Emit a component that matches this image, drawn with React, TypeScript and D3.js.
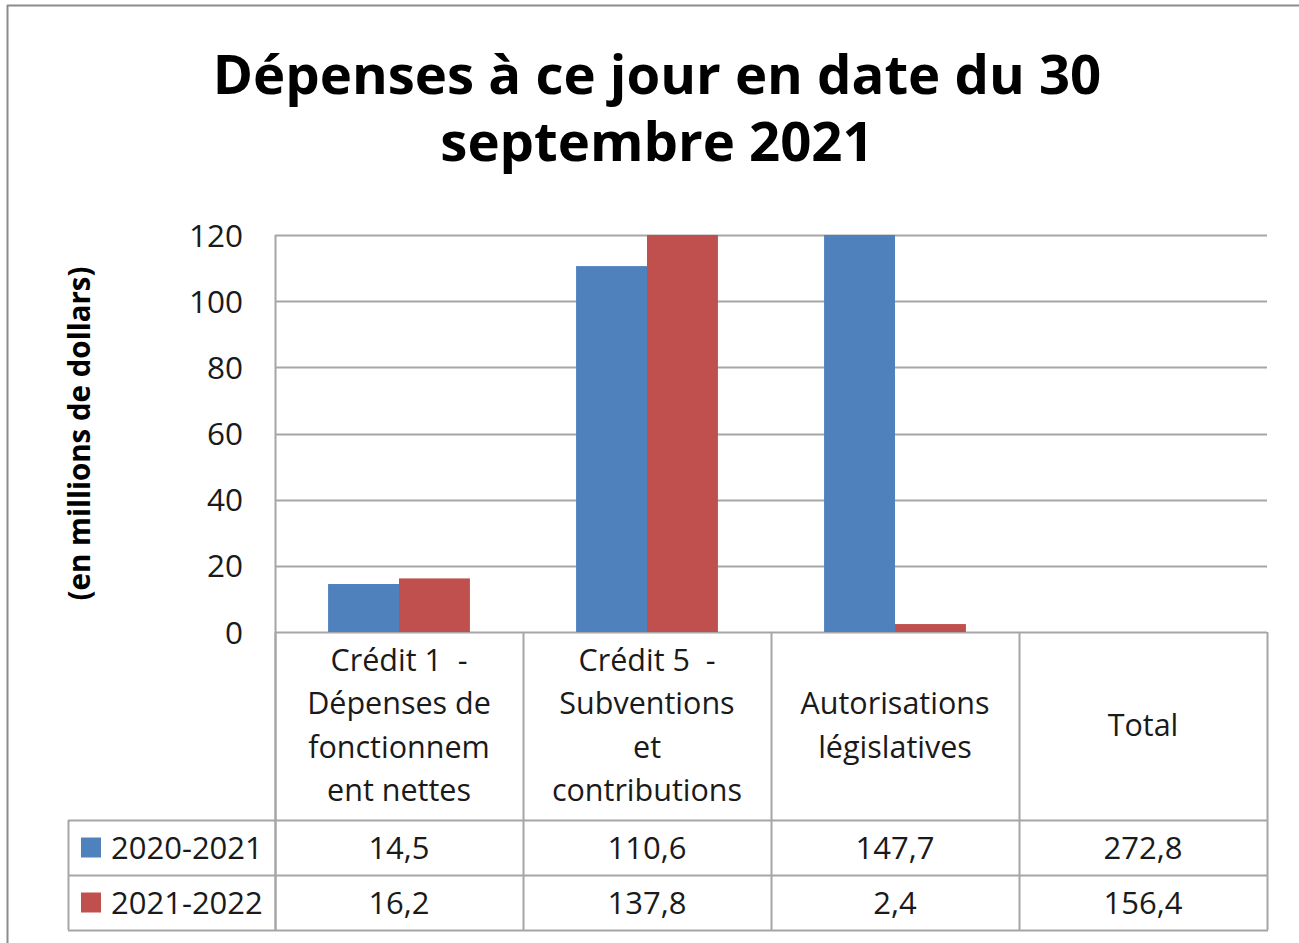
import React, { useEffect, useRef } from "react";
import * as d3 from "d3";

const categories: string[][] = [
  ["Crédit 1  -", "Dépenses de", "fonctionnem", "ent nettes"],
  ["Crédit 5  -", "Subventions", "et", "contributions"],
  ["Autorisations", "législatives"],
  ["Total"],
];
const seriesNames = ["2020-2021", "2021-2022"];
const values2020 = [14.5, 110.6, 147.7, 272.8];
const values2021 = [16.2, 137.8, 2.4, 156.4];
const plottedInChart = [true, true, true, false];
const yTicks = [0, 20, 40, 60, 80, 100, 120];
const colors = ["#4F81BD", "#C0504D"];
const titleLines = ["Dépenses à ce jour en date du 30", "septembre 2021"];
const yAxisTitle = "(en millions de dollars)";

const W = 1299;
const H = 943;
const FONT = "'Open Sans', 'Noto Sans', sans-serif";

export default function App() {
  const ref = useRef<SVGSVGElement | null>(null);

  useEffect(() => {
    const svg = d3.select(ref.current);
    svg.selectAll("*").remove();

    const left = 275, right = 1267, top = 235, bottom = 632;
    const headerBottom = 820, row1Bottom = 875, row2Bottom = 930;
    const legendLeft = 68;
    const gridColor = "#a6a6a6";
    const textColor = "#1a1a1a";

    svg.append("rect").attr("width", W).attr("height", H).attr("fill", "#fff");
    // outer chart border (top and left visible)
    svg.append("line").attr("x1", 7).attr("x2", W).attr("y1", 5.5).attr("y2", 5.5)
      .attr("stroke", "#8c8c8c").attr("stroke-width", 2);
    svg.append("line").attr("x1", 7.5).attr("x2", 7.5).attr("y1", 5).attr("y2", H)
      .attr("stroke", "#8c8c8c").attr("stroke-width", 2);

    // title
    const title = svg.append("text").attr("text-anchor", "middle")
      .attr("font-family", FONT).attr("font-weight", 700).attr("font-size", 54.5)
      .attr("fill", "#000");
    titleLines.forEach((t, i) => {
      title.append("tspan").attr("x", 657).attr("y", 94 + i * 67).text(t);
    });

    const x = d3.scaleBand<number>().domain(d3.range(categories.length)).range([left, right]).paddingInner(0).paddingOuter(0);
    const y = d3.scaleLinear().domain([0, 120]).range([bottom, top]).clamp(true);

    // gridlines
    svg.append("g").selectAll("line").data(yTicks).join("line")
      .attr("x1", left).attr("x2", right)
      .attr("y1", (d) => Math.round(y(d)) + 0.5).attr("y2", (d) => Math.round(y(d)) + 0.5)
      .attr("stroke", gridColor).attr("stroke-width", 2);
    // y axis line
    svg.append("line").attr("x1", left + 0.5).attr("x2", left + 0.5).attr("y1", top).attr("y2", row2Bottom)
      .attr("stroke", gridColor).attr("stroke-width", 2);

    // tick labels
    svg.append("g").selectAll("text").data(yTicks).join("text")
      .attr("x", 243).attr("y", (d) => y(d) + 11.5)
      .attr("text-anchor", "end").attr("font-family", FONT).attr("font-size", 31.5)
      .attr("fill", textColor).text((d) => String(d));

    // y axis title
    svg.append("text")
      .attr("transform", `translate(90, ${(top + bottom) / 2}) rotate(-90)`)
      .attr("text-anchor", "middle").attr("font-family", FONT).attr("font-weight", 700)
      .attr("font-size", 29.5).attr("fill", "#000").text(yAxisTitle);

    // bars
    const bw = x.bandwidth();
    const groupW = bw * 0.572;
    const x1 = d3.scaleBand<number>().domain([0, 1]).range([0, groupW]);
    const series = [values2020, values2021];
    series.forEach((vals, si) => {
      svg.append("g").selectAll("rect")
        .data(vals.map((v, i) => ({ v, i })).filter((d) => plottedInChart[d.i]))
        .join("rect")
        .attr("x", (d) => (x(d.i) as number) + (bw - groupW) / 2 + (x1(si) as number))
        .attr("width", x1.bandwidth())
        .attr("y", (d) => y(d.v))
        .attr("height", (d) => y(0) - y(d.v))
        .attr("fill", colors[si]);
    });

    // data table borders
    const tb = svg.append("g").attr("stroke", gridColor).attr("stroke-width", 2).attr("fill", "none");
    const colEdges = d3.range(categories.length + 1).map((i) => i < categories.length ? (x(i) as number) : right);
    colEdges.forEach((cx) => {
      tb.append("line").attr("x1", cx + 0.5).attr("x2", cx + 0.5).attr("y1", bottom).attr("y2", row2Bottom);
    });
    tb.append("line").attr("x1", legendLeft + 0.5).attr("x2", legendLeft + 0.5).attr("y1", headerBottom).attr("y2", row2Bottom);
    [headerBottom, row1Bottom, row2Bottom].forEach((ry) => {
      tb.append("line").attr("x1", legendLeft).attr("x2", right + 1).attr("y1", ry + 0.5).attr("y2", ry + 0.5);
    });

    // header labels
    const lineH = 43.5;
    const headerMid = (bottom + headerBottom) / 2;
    categories.forEach((lines, i) => {
      const cx = (x(i) as number) + bw / 2;
      const t = svg.append("text").attr("text-anchor", "middle").attr("font-family", FONT)
        .attr("font-size", 30.5).attr("fill", textColor);
      const startY = headerMid - ((lines.length - 1) * lineH) / 2 + 10;
      lines.forEach((ln, li) => {
        t.append("tspan").attr("x", cx).attr("y", startY + li * lineH).attr("xml:space", "preserve").text(ln);
      });
    });

    // data rows
    const rowMids = [(headerBottom + row1Bottom) / 2, (row1Bottom + row2Bottom) / 2];
    series.forEach((vals, si) => {
      const ry = rowMids[si];
      svg.append("rect").attr("x", 81).attr("y", ry - 10).attr("width", 20).attr("height", 20).attr("fill", colors[si]);
      svg.append("text").attr("x", 111).attr("y", ry + 11).attr("font-family", FONT).attr("font-size", 31)
        .attr("fill", textColor).text(seriesNames[si]);
      svg.append("g").selectAll("text").data(vals).join("text")
        .attr("x", (_d, i) => (x(i) as number) + bw / 2).attr("y", ry + 11)
        .attr("text-anchor", "middle").attr("font-family", FONT).attr("font-size", 31)
        .attr("fill", textColor).text((d) => d.toFixed(1).replace(".", ","));
    });
  }, []);

  return (
    <svg ref={ref} width={W} height={H} style={{ position: "absolute", left: 0, top: 0, display: "block" }} />
  );
}
